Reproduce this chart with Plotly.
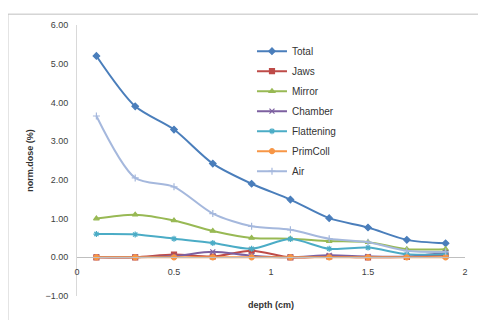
import plotly.graph_objects as go

depth = [0.1, 0.3, 0.5, 0.7, 0.9, 1.1, 1.3, 1.5, 1.7, 1.9]
total = [5.20, 3.90, 3.30, 2.42, 1.90, 1.49, 1.01, 0.77, 0.45, 0.36]
jaws = [0.00, 0.00, 0.07, 0.02, 0.17, 0.00, 0.02, 0.00, 0.01, 0.05]
mirror = [1.00, 1.10, 0.95, 0.68, 0.50, 0.48, 0.42, 0.39, 0.21, 0.21]
chamber = [0.00, 0.00, 0.03, 0.14, 0.04, 0.00, 0.05, 0.02, 0.02, 0.12]
flattening = [0.60, 0.59, 0.48, 0.37, 0.22, 0.47, 0.22, 0.25, 0.08, 0.08]
primcoll = [0.00, 0.00, 0.00, 0.00, 0.00, 0.00, 0.00, 0.00, 0.00, 0.00]
air = [3.65, 2.05, 1.82, 1.13, 0.80, 0.71, 0.48, 0.39, 0.17, 0.14]

series = [
    ("Total", total, "#4A7EBB", "diamond", 5),
    ("Jaws", jaws, "#BE4B48", "square", 5),
    ("Mirror", mirror, "#98B954", "triangle-up", 5),
    ("Chamber", chamber, "#7D60A0", "x-thin-open", 5),
    ("Flattening", flattening, "#4BACC6", "asterisk-open", 5),
    ("PrimColl", primcoll, "#F79646", "circle", 5),
    ("Air", air, "#A5B8DD", "cross-thin-open", 5),
]

fig = go.Figure()
for name, vals, col, sym, sz in series:
    fig.add_trace(go.Scatter(
        x=depth, y=vals, name=name, mode="lines+markers", legendgroup=name,
        line=dict(color=col, width=2, shape="spline", smoothing=0.8),
        marker=dict(symbol=sym, size=sz, color=col, line=dict(color=col, width=1.2)),
    ))

fig.update_layout(
    width=478, height=312,
    margin=dict(l=69, r=21, t=15, b=24),
    paper_bgcolor="white", plot_bgcolor="white",
    font=dict(family="Liberation Sans", size=9, color="#404040"),
    showlegend=True,
    legend=dict(x=0.451, y=0.957, xanchor="left", yanchor="top",
                font=dict(size=10, color="#333333"), bgcolor="rgba(0,0,0,0)",
                tracegroupgap=1, itemwidth=30),
    xaxis=dict(range=[0, 2], tickvals=[0, 0.5, 1, 1.5, 2], ticktext=["0", "0.5", "1", "1.5", "2"],
               showgrid=False, zeroline=False, showline=True, linecolor="#BFBFBF", linewidth=1,
               anchor="free", position=1/7, ticks="", ticklabelstandoff=6),
    yaxis=dict(range=[-1, 6], tickvals=[-1, 0, 1, 2, 3, 4, 5, 6], tickformat=".2f",
               showgrid=False, zeroline=False, showline=True, linecolor="#D9D9D9", linewidth=1,
               ticks="", ticklabelstandoff=6,
               title=dict(text="<b>norm.dose (%)</b>", font=dict(size=9, color="#333333"), standoff=10)),
    annotations=[dict(text="<b>depth (cm)</b>", xref="paper", yref="paper", x=0.5, y=-0.033,
                      xanchor="center", yanchor="middle", showarrow=False,
                      font=dict(size=9, color="#333333"))],
    shapes=[dict(type="rect", xref="paper", yref="paper", x0=-0.178, x1=1.2, y0=-0.3, y1=1.04,
                 line=dict(color="#BFBFBF", width=1), layer="below")],
)

fig.write_html("out.html")
